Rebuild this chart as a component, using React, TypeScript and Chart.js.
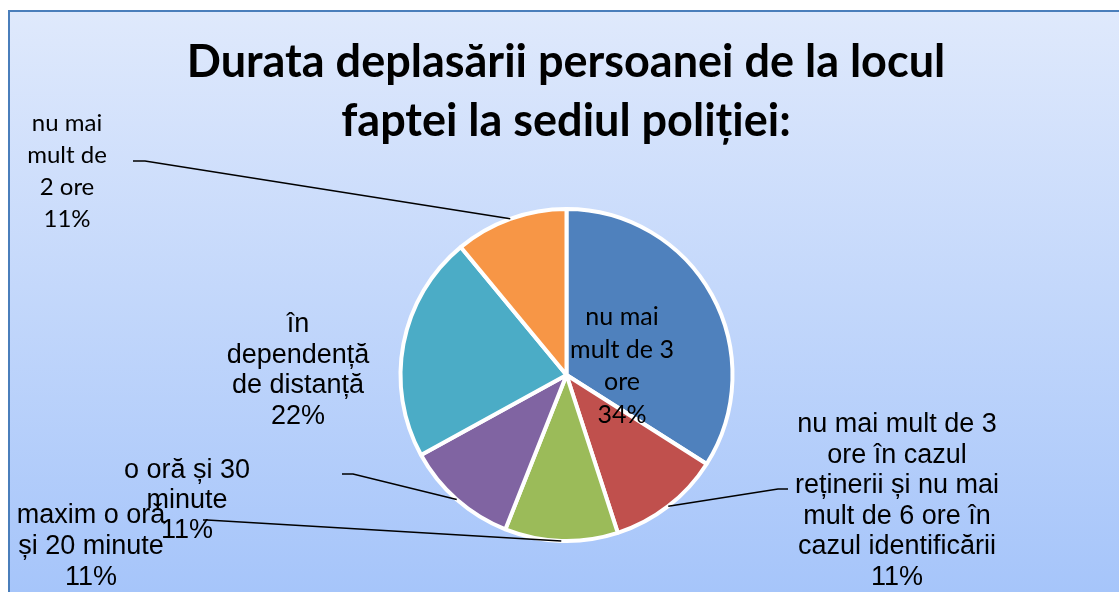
import React, { useEffect, useRef } from "react";
import { Chart, registerables } from "chart.js";

Chart.register(...registerables);

const titleLines = ["Durata deplasării persoanei de la locul", "faptei la sediul poliției:"];

const categories = [
  "nu mai mult de 3 ore",
  "nu mai mult de 3 ore în cazul reținerii și nu mai mult de 6 ore în cazul identificării",
  "maxim o oră și 20 minute",
  "o oră și 30 minute",
  "în dependență de distanță",
  "nu mai mult de 2 ore",
];

const values = [34, 11, 11, 11, 22, 11];

const labelLines = [
  ["nu mai", "mult de 3", "ore"],
  ["nu mai mult de 3", "ore în cazul", "reținerii și nu mai", "mult de 6 ore în", "cazul identificării"],
  ["maxim o oră", "și 20 minute"],
  ["o oră și 30", "minute"],
  ["în", "dependență", "de distanță"],
  ["nu mai", "mult de", "2 ore"],
];

const sliceColors = ["#4F81BD", "#C0504D", "#9BBB59", "#8064A2", "#4BACC6", "#F79646"];

const CALIBRI = "Lato, 'Open Sans', sans-serif";
const ARIAL = "'Liberation Sans', Arial, sans-serif";

// label placement (canvas px): center x, first baseline, line height, font, leader polyline start
const labelLayout = [
  { x: 622, y: 325, lh: 32.5, font: `25px ${CALIBRI}`, leader: null },
  { x: 897, y: 432, lh: 30.6, font: `27px ${ARIAL}`, leader: [[788, 489], [778, 489]] },
  { x: 91, y: 523, lh: 31, font: `27px ${ARIAL}`, leader: [[203, 520], [207, 520]] },
  { x: 187, y: 478, lh: 30, font: `27px ${ARIAL}`, leader: [[342, 474], [353, 474]] },
  { x: 298, y: 332, lh: 30.5, font: `27px ${ARIAL}`, leader: null },
  { x: 67, y: 131, lh: 32, font: `24px ${CALIBRI}`, leader: [[133, 161], [145, 161]] },
];

const backgroundPlugin = {
  id: "bgFrame",
  beforeDraw(chart: any) {
    const { ctx, width, height } = chart;
    ctx.save();
    ctx.fillStyle = "#ffffff";
    ctx.fillRect(0, 0, width, height);
    const g = ctx.createLinearGradient(0, 11, 0, height);
    g.addColorStop(0, "#dfe9fc");
    g.addColorStop(1, "#a6c5fa");
    ctx.fillStyle = g;
    ctx.fillRect(9, 11, width - 9, height - 11);
    ctx.strokeStyle = "#4a7ebb";
    ctx.lineWidth = 2;
    ctx.beginPath();
    ctx.moveTo(9, height);
    ctx.lineTo(9, 11);
    ctx.lineTo(width, 11);
    ctx.stroke();
    // title
    ctx.fillStyle = "#000000";
    ctx.font = `bold 45px ${CALIBRI}`;
    ctx.textAlign = "center";
    ctx.textBaseline = "alphabetic";
    ctx.fillText(titleLines[0], 566, 77);
    ctx.fillText(titleLines[1], 566, 136);
    ctx.restore();
  },
};

const labelsPlugin = {
  id: "sliceLabels",
  afterDatasetsDraw(chart: any) {
    const { ctx } = chart;
    const meta = chart.getDatasetMeta(0);
    const data = chart.data.datasets[0].data as number[];
    ctx.save();
    meta.data.forEach((arc: any, i: number) => {
      const p = arc.getProps(["x", "y", "startAngle", "endAngle", "outerRadius"], true);
      const mid = (p.startAngle + p.endAngle) / 2;
      const ax = p.x + p.outerRadius * Math.cos(mid);
      const ay = p.y + p.outerRadius * Math.sin(mid);
      const L = labelLayout[i];
      if (L.leader) {
        ctx.strokeStyle = "#000000";
        ctx.lineWidth = 1.5;
        ctx.beginPath();
        ctx.moveTo(L.leader[0][0], L.leader[0][1]);
        for (let k = 1; k < L.leader.length; k++) ctx.lineTo(L.leader[k][0], L.leader[k][1]);
        ctx.lineTo(ax, ay);
        ctx.stroke();
      }
    });
    meta.data.forEach((_arc: any, i: number) => {
      const L = labelLayout[i];
      const lines = [...labelLines[i], `${data[i]}%`];
      ctx.fillStyle = "#000000";
      ctx.font = L.font;
      ctx.textAlign = "center";
      ctx.textBaseline = "alphabetic";
      lines.forEach((t, k) => ctx.fillText(t, L.x, L.y + k * L.lh));
    });
    ctx.restore();
  },
};

export default function App() {
  const ref = useRef<HTMLCanvasElement | null>(null);
  useEffect(() => {
    document.body.style.margin = "0";
    const canvas = ref.current;
    if (!canvas) return;
    const chart = new Chart(canvas, {
      type: "pie",
      data: {
        labels: categories,
        datasets: [
          {
            data: values,
            backgroundColor: sliceColors,
            borderColor: "#ffffff",
            borderWidth: 4,
          },
        ],
      },
      options: {
        responsive: false,
        animation: false,
        devicePixelRatio: 1,
        radius: 166,
        layout: { padding: { left: 400, right: 386, top: 208, bottom: 50 } },
        plugins: {
          legend: { display: false },
          title: { display: false },
          tooltip: { enabled: false },
        },
      } as any,
      plugins: [backgroundPlugin, labelsPlugin],
    });
    return () => chart.destroy();
  }, []);
  return (
    <div style={{ position: "absolute", left: 0, top: 0, width: 1119, height: 592 }}>
      <canvas ref={ref} width={1119} height={592} style={{ display: "block" }} />
    </div>
  );
}
